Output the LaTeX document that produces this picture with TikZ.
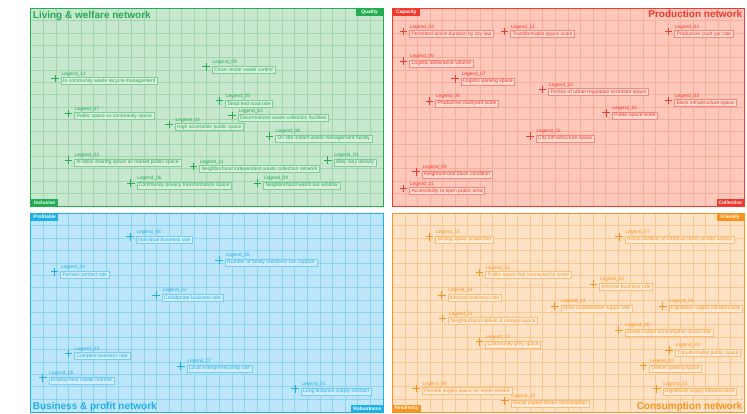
\documentclass[tikz,border=0pt]{standalone}
\usepackage{fontspec}
\setmainfont{Liberation Sans}
\definecolor{LWmain}{RGB}{34,173,80}
\definecolor{LWfill}{RGB}{199,232,207}
\definecolor{LWgrid}{RGB}{162,213,175}
\definecolor{PNmain}{RGB}{239,58,45}
\definecolor{PNfill}{RGB}{255,200,187}
\definecolor{PNgrid}{RGB}{247,172,156}
\definecolor{BPmain}{RGB}{28,176,232}
\definecolor{BPfill}{RGB}{190,230,250}
\definecolor{BPgrid}{RGB}{140,210,241}
\definecolor{CNmain}{RGB}{247,148,29}
\definecolor{CNfill}{RGB}{255,225,196}
\definecolor{CNgrid}{RGB}{250,199,147}
\tikzset{
  crossline/.style={line width=0.9pt},
  lgdlabel/.style={anchor=base west, inner sep=0pt, font=\fontsize{4.8pt}{5pt}\selectfont},
  lgdbox/.style={anchor=north west, inner xsep=2pt, inner ysep=0pt, minimum height=7pt,
    line width=0.4pt, font=\fontsize{5pt}{6pt}\selectfont},
  tagbox/.style={inner xsep=2pt, inner ysep=0pt, minimum width=27.5pt, minimum height=7pt,
    text=white, font=\fontsize{4.9pt}{5pt}\selectfont\bfseries},
  frame/.style={anchor=north west, inner sep=0pt, line width=0.9pt},
  title/.style={inner sep=0pt, font=\fontsize{10pt}{12pt}\selectfont\bfseries}
}
\newcommand\drawquad[6]{%
  \node[frame,fill=#6fill,minimum width={(#4-#2)*1pt},minimum height={(#5-#3)*1pt}] (#1) at (#2,#3) {};
  \foreach \i in {1,...,27}
    \draw[draw=#6grid,line width=0.6pt] ({#2+(#4-#2)*\i/28},#3) -- ({#2+(#4-#2)*\i/28},#5);
  \foreach \j in {1,...,15}
    \draw[draw=#6grid,line width=0.6pt] (#2,{#3+(#5-#3)*\j/16}) -- (#4,{#3+(#5-#3)*\j/16});
  \draw[draw=#6main,line width=0.9pt] (#1.north west) rectangle (#1.south east);
}
\newcommand\lgd[6]{%
  \coordinate (#1) at (#3,#4);
  \draw[crossline,draw=#2main] ([shift={(-3.8,0)}]#1) -- ([shift={(3.8,0)}]#1);
  \draw[crossline,draw=#2main] ([shift={(0,-3.8)}]#1) -- ([shift={(0,3.8)}]#1);
  \node[lgdlabel,text=#2main] (#1l) at ([shift={(6.5,-3.3)}]#1) {Legend\_#5};
  \node[lgdbox,draw=#2main!45!#2fill,fill=#2fill!70!white,text=#2main] (#1b) at ([shift={(6,-1)}]#1) {#6};
}
\begin{document}
\begin{tikzpicture}[x=1pt,y=-1pt]
\useasboundingbox (0,0) rectangle (747,413);
\fill[white] (0,0) rectangle (747,413);

\drawquad{qred}{392.3}{8.3}{743.3}{205.7}{PN}
\drawquad{qgreen}{30.7}{8.3}{382.7}{205.7}{LW}
\drawquad{qblue}{30.7}{213.3}{382.7}{411.5}{BP}
\drawquad{qorange}{392.3}{213.3}{743.3}{411.5}{CN}

% titles
\node[title,text=LWmain,anchor=base west] (tg) at (32.7,18.3) {Living \& welfare network};
\node[title,text=PNmain,anchor=base east] (tr) at (742.5,17.9) {Production network};
\node[title,text=BPmain,anchor=base west] (tb) at (32.7,409.8) {Business \& profit network};
\node[title,text=CNmain,anchor=base east] (to) at (742.5,409.8) {Consumption network};

% tags
\node[tagbox,fill=LWmain,anchor=north east] (tq) at (qgreen.north east) {Quality};
\node[tagbox,fill=LWmain,anchor=south west] (ti) at (qgreen.south west) {Inclusive};
\node[tagbox,fill=PNmain,anchor=north west] (tc) at (qred.north west) {Capacity};
\node[tagbox,fill=PNmain,anchor=south east] (tco) at (qred.south east) {Collective};
\node[tagbox,fill=BPmain,anchor=north west] (tp) at (qblue.north west) {Profitable};
\node[tagbox,fill=BPmain,anchor=south east] (trb) at (qblue.south east) {Robustness};
\node[tagbox,fill=CNmain,anchor=north east] (tf) at (qorange.north east) {Friendly};
\node[tagbox,fill=CNmain,anchor=south west] (trs) at (qorange.south west) {Resiliency};

% green
\lgd{g12}{LW}{55}{78.3}{12}{In community waste recycle management}
\lgd{g09}{LW}{206}{66.7}{09}{Close sector waste control}
\lgd{g05}{LW}{219.3}{100.7}{05}{Dead end road rate}
\lgd{g07}{LW}{68.3}{113.3}{07}{Public space as community space}
\lgd{g10}{LW}{232}{115.3}{10}{Decentralized waste collection facilities}
\lgd{g02}{LW}{169}{124.3}{02}{High accessible public space}
\lgd{g08}{LW}{269.3}{136}{08}{On site instant waste management facility}
\lgd{g03}{LW}{68.3}{160}{03}{In block sharing space as market public space}
\lgd{g11}{LW}{193.3}{166.3}{11}{Neighborhood independent waste collection network}
\lgd{g01}{LW}{327.7}{160}{01}{Alley way density}
\lgd{g06}{LW}{130.7}{183}{06}{Community privacy transformation space}
\lgd{g04}{LW}{257.3}{183}{04}{Neighborhood watch out window}

% red
\lgd{r04a}{PN}{403.3}{31.3}{04}{Permitted active duration by city law}
\lgd{r11a}{PN}{504.3}{31.3}{11}{Transformable space scale}
\lgd{r04b}{PN}{668.3}{31.3}{04}{Productive court yar rate}
\lgd{r06a}{PN}{403.3}{61}{06}{Logistic allowrance volume}
\lgd{r07}{PN}{455}{78.7}{07}{Logistic parking space}
\lgd{r05}{PN}{542.3}{89.3}{05}{Portion of urban regulation restricted space}
\lgd{r06b}{PN}{429.3}{101}{06}{Productive courtyard scale}
\lgd{r03}{PN}{668.3}{100.3}{03}{Block infrastructure space}
\lgd{r10}{PN}{606}{112.7}{10}{Public space scale}
\lgd{r02}{PN}{530}{136}{02}{City infrastructure space}
\lgd{r09}{PN}{416}{171.7}{09}{Neighborhood block condition}
\lgd{r11b}{PN}{403.3}{188.3}{11}{Accessibility to open public area}

% blue
\lgd{b08}{BP}{130}{236.7}{08}{Individual business rate}
\lgd{b05}{BP}{219}{260}{05}{Number of family members can support}
\lgd{b04}{BP}{54.3}{271.7}{04}{Formal contract rate}
\lgd{b02}{BP}{156}{295}{02}{Collaborate business rate}
\lgd{b03}{BP}{68.3}{353.3}{03}{Compete business rate}
\lgd{b07}{BP}{180.7}{366}{07}{Local entrepreneurship rate}
\lgd{b06}{BP}{42.7}{377.7}{06}{Employment create number}
\lgd{b01}{BP}{295}{388.7}{01}{Long distance supply contract}

% orange
\lgd{o15}{CN}{429.3}{236.7}{15}{Selling space proportion}
\lgd{o07}{CN}{619}{236.7}{07}{Active duration of informal street vendor activity}
\lgd{o12}{CN}{479.3}{272.3}{12}{Public space that connected to street}
\lgd{o05}{CN}{593.3}{284}{05}{Informal business rate}
\lgd{o16}{CN}{441.7}{295}{16}{Informal business rate}
\lgd{o14}{CN}{554.7}{306}{14}{Store collaborative supply rate}
\lgd{o04}{CN}{662.7}{306}{04}{Digitalized supply infrastructure}
\lgd{o11}{CN}{442.3}{318.3}{11}{Neighborhood deliver \& storage space}
\lgd{o06}{CN}{618.7}{330}{06}{Street instant consumption space rate}
\lgd{o13}{CN}{479.3}{341.7}{13}{Community grey space}
\lgd{o03}{CN}{669}{350}{03}{Transformable public space}
\lgd{o02}{CN}{643.3}{365.7}{02}{Deliver parking space}
\lgd{o09}{CN}{416}{388.3}{09}{Flexible supply space for street vendor}
\lgd{o01}{CN}{656.7}{388.7}{01}{Digitalized supply infrastructure}
\lgd{o10}{CN}{504.7}{400.7}{10}{Social capital driven consumption}
\end{tikzpicture}
\end{document}
